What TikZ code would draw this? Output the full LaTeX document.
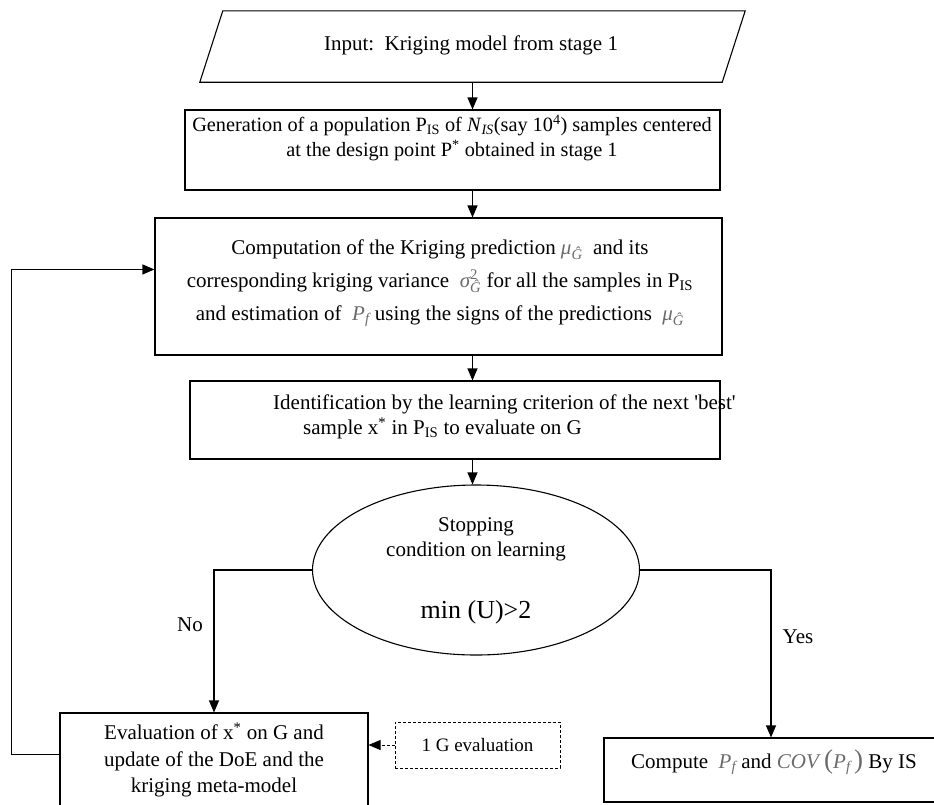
\documentclass[tikz,border=0pt]{standalone}
\usepackage{fontspec}
\setmainfont{Liberation Serif}
\usetikzlibrary{arrows.meta,shapes.geometric,calc}
\definecolor{mgray}{gray}{0.42}
\newcommand{\mth}[1]{{\color{mgray}\itshape #1}}
\newcommand{\Gsub}{\textsubscript{\mth{Ĝ}}}
\newcommand{\bigpar}[1]{{\color{mgray}\fontsize{27}{27}\selectfont #1}}
\tikzset{
  box/.style={draw, line width=1.1pt, inner sep=0pt},
  txt/.style={font=\fontsize{21}{25}\selectfont, align=center, inner sep=0pt},
  arr/.style={line width=1.1pt, -{Triangle[length=12pt,width=10pt]}},
  darr/.style={line width=0.8pt, dash pattern=on 3pt off 2pt, -{Triangle[length=12pt,width=10pt]}},
  dbox/.style={draw, line width=0.8pt, dash pattern=on 3pt off 2pt, inner sep=0pt},
  ell/.style={draw, ellipse, line width=1.1pt, inner sep=0pt},
}
\begin{document}
\begin{tikzpicture}[x=1pt,y=-1pt]
\useasboundingbox (0,0) rectangle (934,804);
% input parallelogram
\node[minimum width=545pt, minimum height=71pt, inner sep=0pt] (in) at (472.5,46.5) {};
\draw[line width=1.1pt] ($(in.north west)+(23,0)$) -- (in.north east) -- ($(in.south east)+(-23,0)$) -- (in.south west) -- cycle;
\node[txt] (intext) at (471,45) {Input:\ \ Kriging model from stage 1};
% box 2
\node[box, minimum width=535pt, minimum height=80pt] (b2) at (452.5,150) {};
\node[txt, font=\fontsize{20.3}{25}\selectfont] (b2t) at (452,138) {Generation of a population P\textsubscript{IS} of \textit{N}\textsubscript{\textit{IS}}(say 10\textsuperscript{4}) samples centered\\ at the design point P\textsuperscript{*} obtained in stage 1};
% box 3
\node[box, minimum width=567pt, minimum height=137pt] (b3) at (438.5,286.5) {};
\node[txt] (b3t) at (440,283) {Computation of the Kriging prediction \mth{μ}\Gsub\ \ and its\\[8pt]
corresponding kriging variance \ \mth{σ}\makebox[0pt][l]{\textsuperscript{\color{mgray}2}}\Gsub\ for all the samples in P\textsubscript{IS}\\[8pt]
and estimation of \ \mth{P}\textsubscript{\mth{f}} using the signs of the predictions \ \mth{μ}\Gsub};
% box 4
\node[box, minimum width=530pt, minimum height=78pt] (b4) at (455,420) {};
\node[txt, anchor=west, align=left] (b4t) at (273,417) {Identification by the learning criterion of the next \textquotesingle best\textquotesingle\\ \hspace*{30pt}sample x\textsuperscript{*} in P\textsubscript{IS} to evaluate on G};
% ellipse
\node[ell, minimum width=327pt, minimum height=170pt] (el) at (476,570) {};
\node[txt] (elt) at (476,539) {Stopping\\condition on learning};
\node[txt, font=\fontsize{26}{30}\selectfont] (elm) at (476,612) {min (U)>2};
% bottom left box
\node[box, minimum width=308pt, minimum height=100pt] (ev) at (214,763) {};
\node[txt] (evt) at (214,760) {Evaluation of x\textsuperscript{*} on G and\\[2pt] update of the DoE and the\\[1pt] kriging meta-model};
% dashed box
\node[dbox, minimum width=165pt, minimum height=46pt, font=\fontsize{19}{23}\selectfont] (db) at (477.5,745) {1 G evaluation};
% right box
\node[box, minimum width=334pt, minimum height=64pt] (res) at (771,770) {};
\node[txt] (rest) at (774,762) {Compute \ \mth{P}\textsubscript{\mth{f}} and \mth{COV} \bigpar{(}\mth{P}\textsubscript{\mth{f}}\,\bigpar{)} By IS};
% connectors
\draw[arr] (in.south) -- (in.south |- b2.north);
\draw[arr] (in.south |- b2.south) -- (in.south |- b3.north);
\draw[arr] (in.south |- b3.south) -- (in.south |- b4.north);
\draw[arr] (in.south |- b4.south) -- (in.south |- el.north);
\draw[arr] (el.west) -| (ev.north);
\draw[arr] (el.east) -| (res.north);
\draw[darr] (db.west) -- (db.west -| ev.east);
\coordinate (fa) at ($(ev.north west)+(0,42)$);
\coordinate (fb) at ($(b3.north west)+(0,52)$);
\draw[arr] (fa) -- ++(-48,0) |- (fb);
% labels
\node[txt] (no) at (190,625) {No};
\node[txt] (yes) at (798,637) {Yes};
\end{tikzpicture}
\end{document}
